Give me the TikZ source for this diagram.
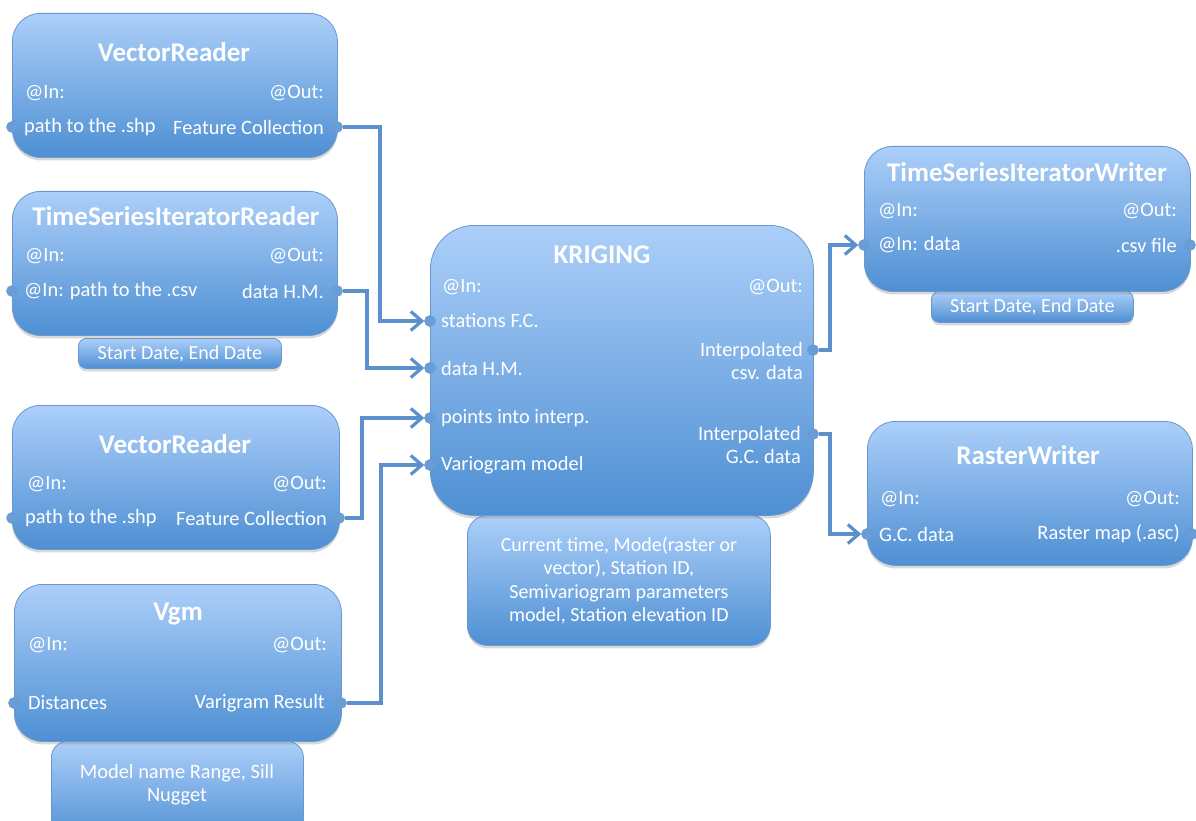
\documentclass[tikz,border=0pt]{standalone}
\usepackage{fontspec}
\setmainfont{Carlito}
\usetikzlibrary{arrows.meta,shadows}
\definecolor{boxtop}{RGB}{172,207,249}
\definecolor{boxbot}{RGB}{78,143,211}
\definecolor{boxedge}{RGB}{104,152,206}
\definecolor{wire}{RGB}{92,144,204}
\definecolor{portfill}{RGB}{106,157,213}
\tikzset{
  block/.style={draw=boxedge, line width=0.8pt, rounded corners=28pt,
    top color=boxtop, bottom color=boxbot, anchor=north west, inner sep=0pt,
    drop shadow={opacity=0.3, shadow xshift=0pt, shadow yshift=-3pt}},
  subblock/.style={block, rounded corners=8pt, text=white, align=center,
    font=\fontsize{20}{23.5}\selectfont},
  title/.style={text=white, inner sep=0pt, font=\bfseries\fontsize{27}{30}\selectfont},
  lbl/.style={text=white, inner sep=0pt, font=\fontsize{20.4}{23}\selectfont},
  lin/.style={lbl, anchor=west},
  rout/.style={lbl, anchor=east, align=right},
  port/.style={circle, fill=portfill, draw=boxedge, line width=0.5pt,
    minimum size=11pt, inner sep=0pt},
  conn/.style={draw=wire, line width=3.4pt, line join=miter,
    -{Straight Barb[length=11pt, width=19pt, line width=3.2pt]}},
}
\begin{document}
\begin{tikzpicture}[x=1pt, y=-1pt]
\clip (0,0) rectangle (1196,821);
\fill[white] (0,0) rectangle (1196,821);

% parameter boxes under the components
\node[subblock, minimum width=203pt, minimum height=30pt] (tsrp) at (78,338) {Start Date, End Date};
\node[subblock, rounded corners=16pt, minimum width=252pt, minimum height=100pt] (vgmp) at (51,741) {};
\node[lbl, align=center] (vgmpt) at (177,785) {Model name Range, Sill\\Nugget};
\node[subblock, rounded corners=20pt, minimum width=303pt, minimum height=130pt] (krp) at (467,515)
  {Current time, Mode(raster or\\vector), Station ID,\\Semivariogram parameters\\model, Station elevation ID};
\node[subblock, minimum width=202pt, minimum height=31pt] (tswp) at (931,291) {Start Date, End Date};

% VectorReader (top)
\node[block, minimum width=325pt, minimum height=144pt] (vr1) at (12,13) {};
\node[title] (vr1t) at (174,52) {VectorReader};
\node[lin] (vr1a) at (25,93) {@In:};
\node[rout] (vr1b) at (324,93) {@Out:};
\node[lin] (vr1c) at (24,127) {path to the .shp};
\node[rout] (vr1d) at (324,127) {Feature Collection};

% TimeSeriesIteratorReader
\node[block, minimum width=325pt, minimum height=144pt] (tsr) at (12,191) {};
\node[title] (tsrt) at (176,216) {TimeSeriesIteratorReader};
\node[lin] (tsra) at (25,256) {@In:};
\node[rout] (tsrb) at (324,256) {@Out:};
\node[lin] (tsrc) at (24,291) {@In: path to the .csv};
\node[rout] (tsrd) at (324,291) {data H.M.};

% VectorReader (bottom)
\node[block, minimum width=327pt, minimum height=144pt] (vr2) at (12,405) {};
\node[title] (vr2t) at (175,444) {VectorReader};
\node[lin] (vr2a) at (27,484) {@In:};
\node[rout] (vr2b) at (327,484) {@Out:};
\node[lin] (vr2c) at (25,518) {path to the .shp};
\node[rout] (vr2d) at (327,518) {Feature Collection};

% Vgm
\node[block, minimum width=327pt, minimum height=157pt] (vgm) at (14,584) {};
\node[title] (vgmt) at (178,614) {Vgm};
\node[lin] (vgma) at (28,645) {@In:};
\node[rout] (vgmb) at (327,645) {@Out:};
\node[lin] (vgmc) at (28,703) {Distances};
\node[rout] (vgmd) at (325,703) {Varigram Result};

% KRIGING
\node[block, rounded corners=44pt, minimum width=383pt, minimum height=290pt] (kr) at (430,225) {};
\node[title] (krt) at (602,255) {KRIGING};
\node[lin] (kra) at (442,287) {@In:};
\node[rout] (krb) at (803,287) {@Out:};
\node[lin] (krc) at (441,321) {stations F.C.};
\node[lin] (krd) at (441,368) {data H.M.};
\node[lin] (kre) at (441,418) {points into interp.};
\node[lin] (krf) at (441,465) {Variogram model};
\node[rout] (krg) at (803,361) {Interpolated\\csv. data};
\node[rout] (krh) at (801,445) {Interpolated\\G.C. data};

% TimeSeriesIteratorWriter
\node[block, minimum width=326pt, minimum height=145pt] (tsw) at (864,146) {};
\node[title] (tswt) at (1027,172) {TimeSeriesIteratorWriter};
\node[lin] (tswa) at (878,211) {@In:};
\node[rout] (tswb) at (1177,211) {@Out:};
\node[lin] (tswc) at (878,245) {@In: data};
\node[rout] (tswd) at (1177,245) {.csv file};

% RasterWriter
\node[block, minimum width=325pt, minimum height=144pt] (rw) at (867,421) {};
\node[title] (rwt) at (1028,455) {RasterWriter};
\node[lin] (rwa) at (880,499) {@In:};
\node[rout] (rwb) at (1180,499) {@Out:};
\node[lin] (rwc) at (879,534) {G.C. data};
\node[rout] (rwd) at (1180,534) {Raster map (.asc)};

% ports
\node[port] (vr1i) at (12,127) {};
\node[port] (vr1o) at (337,127) {};
\node[port] (tsri) at (12,291) {};
\node[port] (tsro) at (337,291) {};
\node[port] (vr2i) at (12,518) {};
\node[port] (vr2o) at (339,518) {};
\node[port] (vgmi) at (14,703) {};
\node[port] (vgmo) at (341,703) {};
\node[port] (kin1) at (430,321) {};
\node[port] (kin2) at (430,368) {};
\node[port] (kin3) at (430,418) {};
\node[port] (kin4) at (430,465) {};
\node[port] (kout1) at (813,350) {};
\node[port] (kout2) at (813,434) {};
\node[port] (tswi) at (864,245) {};
\node[port] (tswo) at (1190,245) {};
\node[port] (rwi) at (867,534) {};
\node[port] (rwo) at (1192,534) {};

% data flow
\draw[conn] (vr1o) -- ++(43,0) |- (kin1);
\draw[conn] (tsro) -- ++(30,0) |- (kin2);
\draw[conn] (vr2o) -- ++(23,0) |- (kin3);
\draw[conn] (vgmo) -- ++(40,0) |- (kin4);
\draw[conn] (kout1) -- ++(17,0) |- (tswi);
\draw[conn] (kout2) -- ++(17,0) |- (rwi);

% redraw ports over the wires
\foreach \p in {vr1o,tsro,vr2o,vgmo,kin1,kin2,kin3,kin4,kout1,kout2,tswi,rwi}
  \fill[portfill] (\p) circle (5.5pt);
\end{tikzpicture}
\end{document}
